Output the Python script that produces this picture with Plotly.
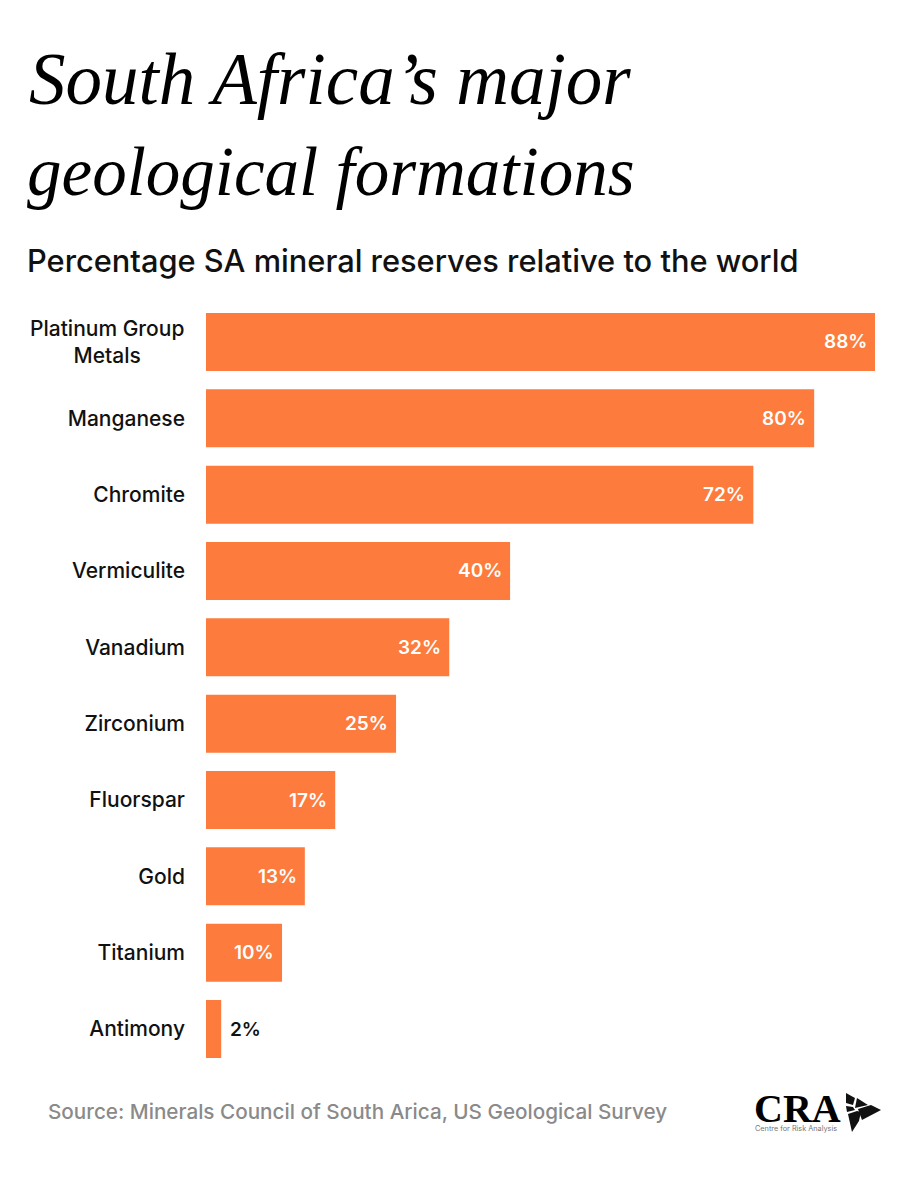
import plotly.graph_objects as go

# values
minerals = ["Platinum Group<br>Metals", "Manganese", "Chromite", "Vermiculite", "Vanadium",
            "Zirconium", "Fluorspar", "Gold", "Titanium", "Antimony"]
shares = [88, 80, 72, 40, 32, 25, 17, 13, 10, 2]
labels = ["88%", "80%", "72%", "40%", "32%", "25%", "17%", "13%", "10%", "2%"]

# the page adds an 8px body margin, so the figure is smaller than the window
W, H = 908, 1184
ORANGE = "#FC7B3D"
BODY = "Inter"
INK = "#111111"


def px(x):
    return (x - 8) / W


def py(y):
    return 1 - (y - 8) / H


fig = go.Figure(go.Bar(
    x=shares,
    y=minerals,
    orientation="h",
    width=0.76,
    marker=dict(color=ORANGE, line=dict(width=0)),
    hoverinfo="skip",
))

fig.update_layout(
    width=W,
    height=H,
    autosize=False,
    margin=dict(l=0, r=0, t=0, b=0),
    paper_bgcolor="white",
    plot_bgcolor="white",
    showlegend=False,
    font=dict(family=BODY, color=INK),
    # plot area set from bar edges
    xaxis=dict(domain=[px(206), px(875)], range=[0, 88], visible=False, fixedrange=True),
    yaxis=dict(
        domain=[py(1067.2), py(303.8)],
        autorange="reversed",
        showgrid=False,
        showline=False,
        zeroline=False,
        ticks="",
        ticklabelstandoff=20,
        tickmode="array",
        tickvals=minerals[1:],
        ticktext=minerals[1:],
        tickfont=dict(family=BODY, size=21, color=INK, weight=500),
        fixedrange=True,
    ),
)

# two line label is centred in the reference, tick labels can't do that
fig.add_annotation(text=minerals[0], xref="x", yref="y", x=0, y=minerals[0], xanchor="right", xshift=-20,
                   align="center", showarrow=False, font=dict(family=BODY, size=21, color=INK, weight=500))

# value labels sit inside the bar end, the last one outside
for name, share, label in zip(minerals, shares, labels):
    inside = share > 5
    fig.add_annotation(text=label, xref="x", yref="y", x=share, y=name,
                       xanchor="right" if inside else "left", xshift=-6 if inside else 7,
                       showarrow=False,
                       font=dict(family=BODY, size=19, weight=600, color="white" if inside else INK))

# title block and source line
fig.add_annotation(text="<i>South Africa’s major</i>", xref="paper", yref="paper", x=px(27), y=py(79),
                   xanchor="left", yanchor="middle", showarrow=False,
                   font=dict(family="Liberation Serif", size=73, color="#000000"))
fig.add_annotation(text="<i>geological formations</i>", xref="paper", yref="paper", x=px(25), y=py(172),
                   xanchor="left", yanchor="middle", showarrow=False,
                   font=dict(family="Liberation Serif", size=69, color="#000000"))
fig.add_annotation(text="Percentage SA mineral reserves relative to the world", xref="paper", yref="paper",
                   x=px(25), y=py(260), xanchor="left", yanchor="middle", showarrow=False,
                   font=dict(family=BODY, size=30.8, weight=500, color=INK))
fig.add_annotation(text="Source: Minerals Council of South Arica, US Geological Survey", xref="paper", yref="paper",
                   x=px(46), y=py(1111), xanchor="left", yanchor="middle", showarrow=False,
                   font=dict(family=BODY, size=20.7, weight=500, color="#8a8a8a"))

# logo: wordmark and small caption
fig.add_annotation(text="<b>CRA</b>", xref="paper", yref="paper", x=px(752), y=py(1108),
                   xanchor="left", yanchor="middle", showarrow=False,
                   font=dict(family="Liberation Serif", size=40, color="#000000"))
fig.add_annotation(text="Centre for Risk Analysis", xref="paper", yref="paper", x=px(753), y=py(1128),
                   xanchor="left", yanchor="middle", showarrow=False,
                   font=dict(family=BODY, size=7.3, color="#777777"))

# logo mark: dark leaves forming a triangle
leaves = [
    [(846, 1093), (855, 1098), (853, 1105), (846, 1103)],
    [(857, 1098), (868, 1105), (855, 1108)],
    [(846, 1106), (853, 1107), (855, 1110), (847, 1112)],
    [(848, 1114), (857, 1111), (861, 1112), (859, 1121), (852, 1132)],
    [(858, 1109), (871, 1105), (881, 1110), (862, 1120)],
]
for leaf in leaves:
    path = "M " + " L ".join(f"{px(a):.4f} {py(b):.4f}" for a, b in leaf) + " Z"
    fig.add_shape(type="path", path=path, xref="paper", yref="paper", line=dict(width=0), fillcolor="#111111")

fig.write_html("out.html")
